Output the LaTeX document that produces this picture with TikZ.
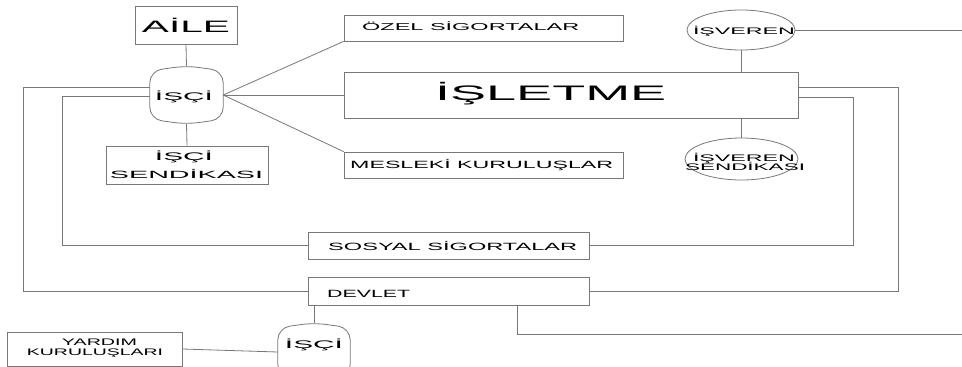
\documentclass[tikz,border=0pt]{standalone}
\usepackage{fontspec}
\setmainfont{Liberation Sans}
\usepackage{graphicx}
\usetikzlibrary{calc,shapes.geometric}

% wide label: font size, target width, text
\newcommand\widetxt[3]{\fontsize{#1}{#1}\selectfont\resizebox{#2}{\height}{#3}}

\definecolor{linegray}{RGB}{120,120,120}

\tikzset{
  boxnode/.style={draw=linegray, line width=0.8pt, rectangle, inner sep=0pt},
  ovalnode/.style={draw=linegray, line width=0.8pt, ellipse, inner sep=0pt},
  canframe/.style={rectangle, inner sep=0pt},
  conn/.style={draw=linegray, line width=0.8pt},
  label/.style={inner sep=0pt, text=black},
}

% barrel-like outline with bowed top and bottom around a named frame node
\newcommand\barrel[1]{%
  \draw[conn, rounded corners=12pt]
    (#1.west) -- ($(#1.north west)+(0,5)$) -- (#1.north)
    -- ($(#1.north east)+(0,5)$) -- ($(#1.south east)+(0,-5)$)
    -- (#1.south) -- ($(#1.south west)+(0,-5)$) -- cycle;}

\begin{document}
\begin{tikzpicture}[x=1pt,y=-1pt]
  \useasboundingbox (0,0) rectangle (962,367);
  \fill[white] (0,0) rectangle (962,367);

  % boxes
  \node[boxnode, minimum width=102pt, minimum height=38pt] (aile) at (186,25) {};
  \node[canframe, minimum width=73pt, minimum height=58pt] (isciT) at (186.5,95) {};
  \node[boxnode, minimum width=162pt, minimum height=38pt] (isend) at (187,165) {};
  \node[boxnode, minimum width=279pt, minimum height=26pt] (ozel) at (483.5,28) {};
  \node[boxnode, minimum width=454pt, minimum height=46pt] (isletme) at (571,95) {};
  \node[boxnode, minimum width=279pt, minimum height=26pt] (meslek) at (483.5,165) {};
  \node[ovalnode, minimum width=108pt, minimum height=40pt] (isveren) at (741,30) {};
  \node[ovalnode, minimum width=113pt, minimum height=42pt] (isvsend) at (741.5,159) {};
  \node[boxnode, minimum width=281pt, minimum height=27pt] (sosyal) at (448.5,245.5) {};
  \node[boxnode, minimum width=281pt, minimum height=28pt] (devlet) at (448.5,291) {};
  \node[boxnode, minimum width=175pt, minimum height=34pt] (yardim) at (94.5,349) {};
  \node[canframe, minimum width=72pt, minimum height=58pt] (isciB) at (314,352) {};

  \barrel{isciT}
  \barrel{isciB}

  % open ends at the right margin
  \coordinate (edgeA) at (962,30);
  \coordinate (edgeB) at (962,334);

  % connectors
  \draw[conn] (aile.south) -- (isciT.north);
  \draw[conn] (isciT.south) -- (isend.north);
  \draw[conn] (isciT.east) -- (ozel.south west);
  \draw[conn] (isciT.east) -- (isletme.west);
  \draw[conn] (isciT.east) -- (meslek.north west);
  \draw[conn] (isveren.south) -- (isletme.north -| isveren.south);
  \draw[conn] (isletme.south -| isvsend.north) -- (isvsend.north);
  \draw[conn] (isveren.east) -- (edgeA);
  \draw[conn] ($(isciT.west)+(0,-8)$) -| (23,291) -- (devlet.west);
  \draw[conn] ($(isciT.west)+(0,1)$) -| (62,245.5) -- (sosyal.west);
  \draw[conn] ($(isletme.east)+(0,2)$) -| (853,245.5) -- (sosyal.east);
  \draw[conn] ($(isletme.east)+(0,-8)$) -| (898,291) -- (devlet.east);
  \draw[conn] (517,305) |- (edgeB);
  \draw[conn] (isciB.north |- devlet.south) -- (isciB.north);
  \draw[conn] (yardim.east) -- (isciB.west);

  % labels
  \node[label, anchor=base] (t-aile) at (186,32) {\widetxt{16.5}{88pt}{AİLE}};
  \node[label, anchor=base] (t-isciT) at (184,100.5) {\widetxt{11}{58pt}{İŞÇİ}};
  \node[label, anchor=base] (t-isend1) at (184,160) {\widetxt{11}{58pt}{İŞÇİ}};
  \node[label, anchor=base] (t-isend2) at (186.5,178) {\widetxt{10.5}{153pt}{SENDİKASI}};
  \node[label, anchor=base west] (t-ozel) at (362,30.7) {\widetxt{10}{217pt}{ÖZEL SİGORTALAR}};
  \node[label, anchor=base west] (t-isletme) at (435,100) {\widetxt{21}{231pt}{İŞLETME}};
  \node[label, anchor=base west] (t-meslek) at (350,168.3) {\widetxt{10.5}{263pt}{MESLEKİ KURULUŞLAR}};
  \node[label, anchor=base] (t-isveren) at (744,34) {\widetxt{9.5}{102pt}{İŞVEREN}};
  \node[label, anchor=base] (t-isvsend1) at (744,161) {\widetxt{9.5}{102pt}{İŞVEREN}};
  \node[label, anchor=base] (t-isvsend2) at (745,170.5) {\widetxt{9.5}{120pt}{SENDİKASI}};
  \node[label, anchor=base west] (t-sosyal) at (328,250.7) {\widetxt{10.5}{249pt}{SOSYAL SİGORTALAR}};
  \node[label, anchor=base west] (t-devlet) at (327,297.3) {\widetxt{10.5}{83pt}{DEVLET}};
  \node[label, anchor=base] (t-yardim1) at (99.5,345) {\widetxt{9.5}{75pt}{YARDIM}};
  \node[label, anchor=base] (t-yardim2) at (95,355.5) {\widetxt{9.5}{136pt}{KURULUŞLARI}};
  \node[label, anchor=base] (t-isciB) at (314,348) {\widetxt{11}{58pt}{İŞÇİ}};
\end{tikzpicture}
\end{document}
